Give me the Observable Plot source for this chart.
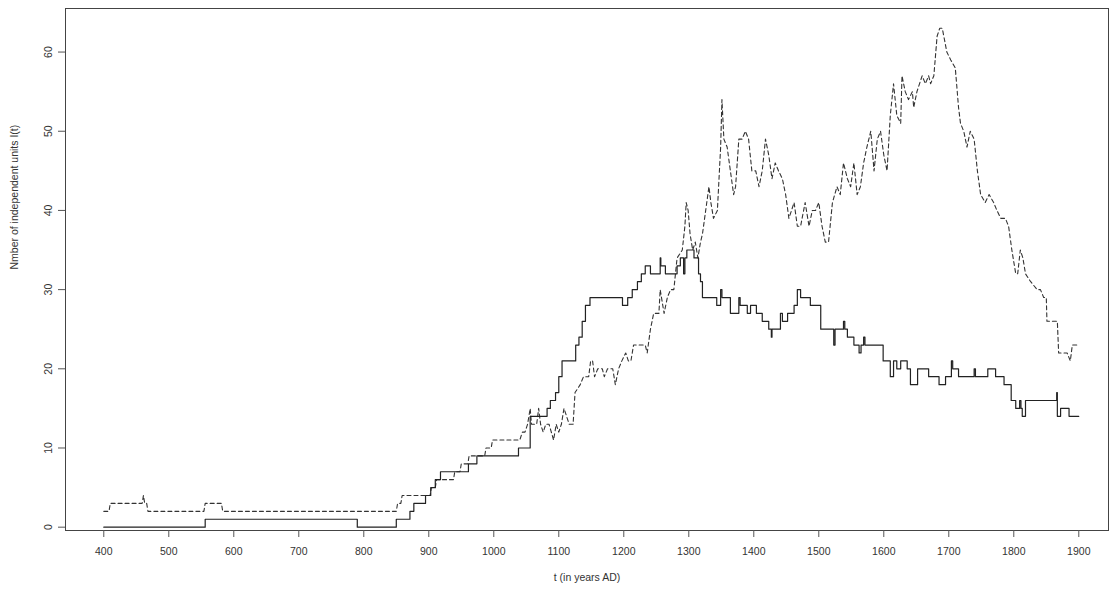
<!DOCTYPE html>
<html>
<head>
<meta charset="utf-8">
<script src="https://cdn.jsdelivr.net/npm/d3@7"></script>
<script src="https://cdn.jsdelivr.net/npm/@observablehq/plot@0.6"></script>
<style>
  html, body { margin: 0; padding: 0; background: #fff; }
  svg { display: block; }
</style>
</head>
<body>
<div id="chart"></div>
<script>
// Solid series: number of independent units, as change points (value holds until the next year listed)
const solidYears = [400, 556, 790, 850, 871, 877, 895, 903, 910, 918, 961, 974, 1038, 1056, 1082, 1087, 1095, 1100, 1105,
  1126, 1131, 1136, 1141, 1148, 1198, 1206, 1213, 1221, 1227, 1233, 1241, 1256, 1257, 1264, 1282, 1287, 1292, 1294,
  1297, 1308, 1315, 1318, 1321, 1343, 1349, 1351, 1364, 1377, 1379, 1390, 1395, 1404, 1413, 1423, 1427, 1428, 1441,
  1444, 1452, 1462, 1467, 1472, 1487, 1503, 1523, 1525, 1538, 1540, 1544, 1554, 1562, 1565, 1569, 1571, 1599, 1610,
  1615, 1620, 1626, 1636, 1641, 1652, 1669, 1685, 1695, 1704, 1706, 1715, 1739, 1741, 1760, 1772, 1785, 1796, 1803,
  1809, 1811, 1813, 1818, 1866, 1867, 1872, 1885, 1900];
const solidValues = [0, 1, 0, 1, 2, 3, 4, 5, 6, 7, 8, 9, 10, 14, 15, 16, 17, 19, 21,
  23, 24, 26, 28, 29, 28, 29, 30, 31, 32, 33, 32, 34, 33, 32, 33, 34, 32, 34,
  35, 34, 32, 31, 29, 28, 30, 29, 27, 29, 28, 27, 28, 27, 26, 25, 24, 25, 27,
  26, 27, 28, 30, 29, 28, 25, 23, 25, 26, 25, 24, 23, 22, 23, 24, 23, 21, 19,
  21, 20, 21, 20, 18, 20, 19, 18, 19, 21, 20, 19, 20, 19, 20, 19, 18, 16, 15,
  16, 15, 14, 16, 17, 14, 15, 14, 14];

// Dashed series: comparison count, yearly readings joined by straight segments
const dashedYears = [400, 408, 410, 459, 461, 463, 466, 468, 554, 556, 581, 583, 850, 852, 857, 859, 902, 904, 910, 912,
  938, 940, 948, 950, 960, 962, 986, 988, 996, 998, 1040, 1044, 1048, 1052, 1056, 1058, 1062, 1066, 1069, 1072,
  1076, 1080, 1085, 1092, 1096, 1100, 1104, 1108, 1112, 1116, 1122, 1125, 1133, 1138, 1146, 1149, 1152, 1155, 1160,
  1167, 1170, 1175, 1183, 1187, 1192, 1197, 1203, 1207, 1211, 1215, 1233, 1236, 1241, 1246, 1254, 1256, 1262, 1267,
  1272, 1277, 1282, 1290, 1294, 1296, 1299, 1302, 1306, 1310, 1314, 1318, 1321, 1326, 1331, 1334, 1338, 1344, 1349,
  1351, 1354, 1359, 1364, 1369, 1372, 1377, 1382, 1387, 1392, 1397, 1403, 1408, 1413, 1418, 1423, 1428, 1433, 1438,
  1444, 1449, 1454, 1458, 1462, 1467, 1472, 1479, 1485, 1490, 1495, 1500, 1505, 1510, 1515, 1521, 1528, 1533, 1538,
  1544, 1549, 1554, 1559, 1564, 1569, 1574, 1580, 1585, 1590, 1595, 1600, 1605, 1610, 1615, 1620, 1626, 1628, 1633,
  1638, 1644, 1646, 1651, 1659, 1664, 1669, 1672, 1677, 1682, 1686, 1690, 1697, 1703, 1710, 1715, 1718, 1723, 1728,
  1733, 1739, 1744, 1749, 1756, 1762, 1769, 1774, 1780, 1787, 1792, 1797, 1803, 1806, 1810, 1814, 1818, 1826, 1836,
  1841, 1846, 1850, 1851, 1867, 1869, 1882, 1887, 1890, 1900];
const dashedValues = [2, 2, 3, 3, 4, 3, 3, 2, 2, 3, 3, 2, 2, 3, 3, 4, 4, 5, 5, 6,
  6, 7, 7, 8, 8, 9, 9, 10, 10, 11, 11, 12, 12, 13, 15, 13, 13, 13, 15, 13,
  12, 13, 13, 11, 13, 12, 13, 15, 14, 13, 13, 17, 18, 19, 19, 21, 21, 19, 20,
  20, 19, 20, 20, 18, 20, 21, 22, 21, 21, 23, 23, 22, 25, 27, 27, 30, 27, 29,
  30, 30, 34, 35, 38, 41, 40, 37, 35, 36, 34, 36, 37, 40, 43, 41, 39, 40, 48,
  54, 49, 48, 45, 42, 43, 49, 49, 50, 49, 45, 45, 43, 45, 49, 47, 44, 46, 45,
  44, 42, 39, 40, 41, 38, 38, 41, 38, 40, 40, 41, 38, 36, 36, 41, 43, 42, 46,
  44, 43, 46, 42, 43, 46, 48, 50, 45, 49, 50, 47, 45, 52, 56, 52, 51, 57, 55,
  54, 55, 53, 55, 57, 56, 57, 56, 57, 62, 63, 63, 60, 59, 58, 53, 51, 50, 48,
  50, 49, 45, 42, 41, 42, 41, 40, 39, 39, 38, 35, 32, 32, 35, 34, 32, 31, 30,
  30, 29, 29, 26, 26, 22, 22, 21, 23, 23];

// Axis ticks and titles
const xTicks = [400, 500, 600, 700, 800, 900, 1000, 1100, 1200, 1300, 1400, 1500, 1600, 1700, 1800, 1900];
const yTicks = [0, 10, 20, 30, 40, 50, 60];
const xTitle = "t (in years AD)";
const yTitle = "Nmber of independent units I(t)";

const solid = solidYears.map((t, i) => ({t, v: solidValues[i]}));
const dashed = dashedYears.map((t, i) => ({t, v: dashedValues[i]}));

const chart = Plot.plot({
  width: 1110,
  height: 596,
  marginLeft: 65,
  marginRight: 2,
  marginTop: 8,
  marginBottom: 66,
  style: {
    fontFamily: "'Liberation Sans', Arial, sans-serif",
    fontSize: "10.5px",
    color: "#333",
    background: "#fff",
    overflow: "visible"
  },
  x: {domain: [341.1, 1945.7], axis: null},
  y: {domain: [-0.42, 65.5], axis: null},
  marks: [
    Plot.frame({stroke: "#444", strokeWidth: 1}),
    Plot.axisX(xTicks, {
      tickSize: 7, tickPadding: 10, tickFormat: d => String(d),
      label: null, stroke: "#555", fill: "#333"
    }),
    Plot.axisY(yTicks, {
      tickSize: 7, tickPadding: 7, tickRotate: -90,
      label: null, stroke: "#555", fill: "#333"
    }),
    Plot.text([xTitle], {
      frameAnchor: "bottom", dy: 50, text: d => d,
      fill: "#333", fontSize: 10.5
    }),
    Plot.text([yTitle], {
      frameAnchor: "left", dx: -51, rotate: -90, text: d => d,
      fill: "#333", fontSize: 10.5
    }),
    Plot.line(dashed, {
      x: "t", y: "v", stroke: "#333", strokeWidth: 1.1,
      strokeDasharray: "4,3"
    }),
    Plot.line(solid, {
      x: "t", y: "v", curve: "step-after", stroke: "#222", strokeWidth: 1.2
    })
  ]
});

document.getElementById("chart").appendChild(chart);
</script>
</body>
</html>
